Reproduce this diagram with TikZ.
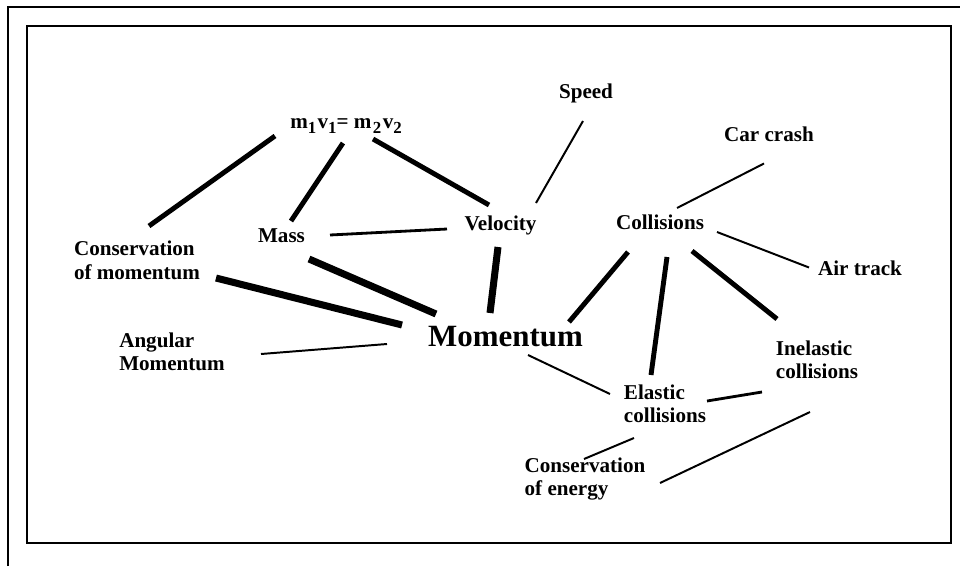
\documentclass[tikz,border=0pt]{standalone}
\usepackage{fontspec}
\setmainfont{Liberation Serif}
\usepackage{tikz}
\newcommand{\lowsub}[1]{\raisebox{-3.6pt}{\fontsize{12}{12}\selectfont\bfseries #1}}

\begin{document}
\begin{tikzpicture}[x=0.025cm,y=-0.025cm,
  concept/.style={font=\bfseries\fontsize{15}{16.7}\selectfont,align=left,inner sep=0pt},
  thinlink/.style={line width=1.4pt},
  midlink/.style={line width=2pt},
  thicklink/.style={line width=3.5pt},
  heavylink/.style={line width=5pt}]
\useasboundingbox (0,0) rectangle (960,566);
\draw[line width=1pt] (8,566) |- (960,7);
\draw[line width=1.4pt] (27,26) rectangle (951,543);

\node[concept,font=\bfseries\fontsize{22}{24}\selectfont] (mom) at (505.5,337) {Momentum};
\node[concept] (eq) at (346,126) {m\lowsub{1}\kern1pt v\lowsub{1}= m\kern1pt\lowsub{2}\kern1pt v\lowsub{2}};
\node[concept] (speed) at (586,93) {Speed};
\node[concept] (car) at (769,134) {Car crash};
\node[concept] (coll) at (660,222) {Collisions};
\node[concept] (air) at (860,268) {Air track};
\node[concept] (inel) at (817,360) {Inelastic\\collisions};
\node[concept] (elas) at (665,404) {Elastic\\collisions};
\node[concept] (energy) at (585,479) {Conservation\\of energy};
\node[concept] (vel) at (500.5,225) {Velocity};
\node[concept] (mass) at (281.5,235.5) {Mass};
\node[concept] (consmom) at (137,260.5) {Conservation\\of momentum};
\node[concept] (ang) at (172,352) {Angular\\Momentum};

\draw[thicklink] ([shift={(-71,10)}]eq.center) -- ([shift={(12,-34.5)}]consmom.center);
\draw[thicklink] ([shift={(-3,17)}]eq.center) -- ([shift={(9.5,-14.5)}]mass.center);
\draw[thicklink] ([shift={(27,13)}]eq.center) -- ([shift={(-11.5,-20)}]vel.center);
\draw[thinlink] ([shift={(-3,28)}]speed.center) -- ([shift={(35.5,-22)}]vel.center);
\draw[midlink] ([shift={(48.5,-0.5)}]mass.center) -- ([shift={(-53.5,4)}]vel.center);
\draw[heavylink] ([shift={(27.5,23.5)}]mass.center) -- ([shift={(-69.5,-23)}]mom.center);
\draw[heavylink] ([shift={(79,17.5)}]consmom.center) -- ([shift={(-103.5,-12)}]mom.center);
\draw[thinlink] ([shift={(89,2)}]ang.center) -- ([shift={(-118.5,7)}]mom.center);
\draw[heavylink] ([shift={(-2.5,22)}]vel.center) -- ([shift={(-15.5,-24)}]mom.center);
\draw[thicklink] ([shift={(-32,30)}]coll.center) -- ([shift={(63.5,-15)}]mom.center);
\draw[thicklink] ([shift={(7,35)}]coll.center) -- ([shift={(-14,-29)}]elas.center);
\draw[thicklink] ([shift={(32,29)}]coll.center) -- ([shift={(-40,-41)}]inel.center);
\draw[thinlink] ([shift={(57,10)}]coll.center) -- ([shift={(-51,-0.5)}]air.center);
\draw[thinlink] ([shift={(17,-14)}]coll.center) -- ([shift={(-5,29.5)}]car.center);
\draw[thinlink] ([shift={(22.5,18)}]mom.center) -- ([shift={(-55,-10)}]elas.center);
\draw[midlink] ([shift={(42,-3)}]elas.center) -- ([shift={(-55,32)}]inel.center);
\draw[thinlink] ([shift={(-31,34)}]elas.center) -- ([shift={(-1,-20)}]energy.center);
\draw[thinlink] ([shift={(-7,52)}]inel.center) -- ([shift={(75,4)}]energy.center);
\end{tikzpicture}
\end{document}
